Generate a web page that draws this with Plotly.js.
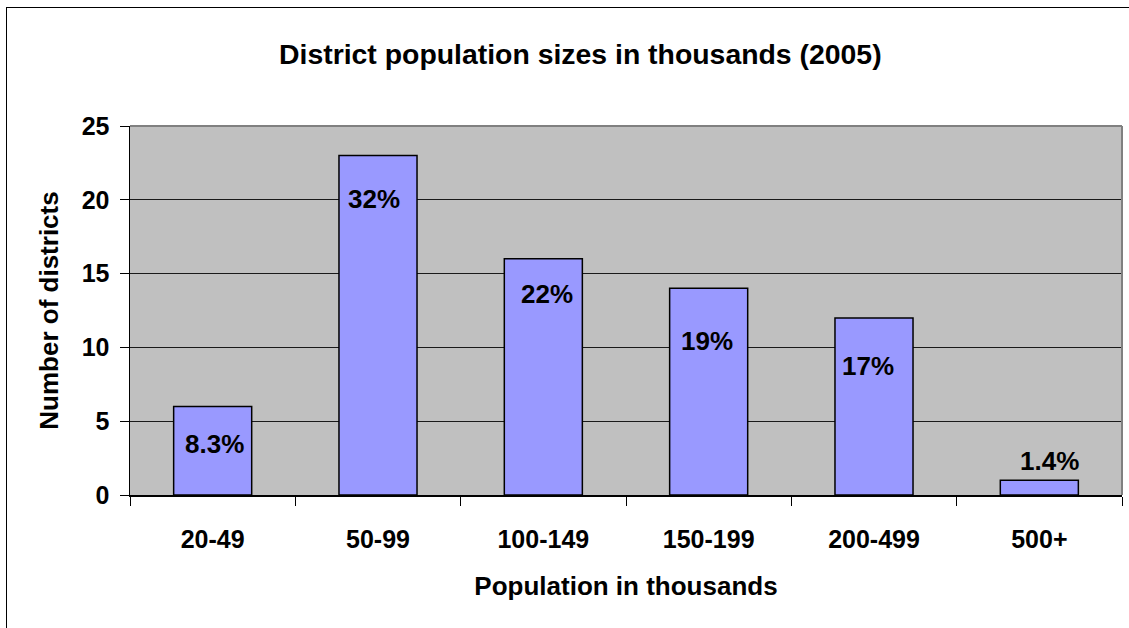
<!DOCTYPE html>
<html>
<head>
<meta charset="utf-8">
<script src="https://cdn.plot.ly/plotly-3.0.1.min.js"></script>
<style>
  html, body { margin: 0; padding: 0; background: #ffffff; overflow: hidden; }
  #frame { position: absolute; left: 6px; top: 7px; width: 1300px; height: 800px; border: 1.5px solid #000; box-sizing: border-box; }
  #chart { position: absolute; left: 0; top: 0; width: 1129px; height: 628px; }
</style>
</head>
<body>
<div id="frame"></div>
<div id="chart"></div>
<script>
// ---- data ----
const categories = ["20-49", "50-99", "100-149", "150-199", "200-499", "500+"];
const districts = [6, 23, 16, 14, 12, 1];
const shareLabels = ["8.3%", "32%", "22%", "19%", "17%", "1.4%"];
const yTickValues = [0, 5, 10, 15, 20, 25];

// ---- label placement (style, pixels relative to bar top) ----
const labelYShift = [-38, -43, -35, -53, -48, 19];
const labelXShift = [2, -4, 4, -2, -6, 10];

const FONT = "Liberation Sans, Arial, Helvetica, sans-serif";

const trace = {
  type: "bar",
  x: categories,
  y: districts,
  marker: { color: "#9999FF", line: { color: "#000000", width: 1.5 } },
  hoverinfo: "x+y"
};

const annotations = categories.map((c, i) => ({
  x: c,
  y: districts[i],
  xref: "x",
  yref: "y",
  text: shareLabels[i],
  showarrow: false,
  xanchor: "center",
  yanchor: "middle",
  yshift: labelYShift[i],
  xshift: labelXShift[i],
  font: { family: FONT, size: 26, color: "#000", weight: "bold" }
}));

const layout = {
  width: 1129,
  height: 628,
  paper_bgcolor: "rgba(0,0,0,0)",
  plot_bgcolor: "#C0C0C0",
  margin: { l: 130, r: 7, t: 126, b: 133, pad: 0 },
  showlegend: false,
  bargap: 0.528,
  title: {
    text: "District population sizes in thousands (2005)",
    font: { family: FONT, size: 28.4, color: "#000", weight: "bold" },
    xref: "container", yref: "container",
    x: 0.514, xanchor: "center",
    y: 1 - 54 / 628, yanchor: "middle"
  },
  xaxis: {
    type: "category",
    showgrid: false,
    showline: true, linecolor: "#000", linewidth: 1.5,
    ticks: "outside", ticklen: 9, tickcolor: "#000", tickwidth: 1,
    tickson: "boundaries",
    tickfont: { family: FONT, size: 25, color: "#000", weight: "bold" },
    ticklabelstandoff: 21,
    title: {
      text: "Population in thousands",
      font: { family: FONT, size: 26, color: "#000", weight: "bold" },
      standoff: 25
    },
    automargin: false,
    fixedrange: true
  },
  yaxis: {
    range: [0, 25],
    tickvals: yTickValues,
    ticktext: yTickValues.map(String),
    showgrid: true, gridcolor: "#1a1a1a", gridwidth: 1,
    zeroline: false,
    showline: true, linecolor: "#000", linewidth: 1.5,
    ticks: "outside", ticklen: 9, tickcolor: "#000", tickwidth: 1,
    tickfont: { family: FONT, size: 25, color: "#000", weight: "bold" },
    ticklabelstandoff: 5,
    title: {
      text: "Number of districts",
      font: { family: FONT, size: 26, color: "#000", weight: "bold" },
      standoff: 15
    },
    automargin: false,
    fixedrange: true
  },
  shapes: [
    { type: "line", xref: "paper", yref: "paper", x0: 0, x1: 1, y0: 1, y1: 1,
      line: { color: "#808080", width: 2 }, layer: "above" },
    { type: "line", xref: "paper", yref: "paper", x0: 1, x1: 1, y0: 0, y1: 1,
      line: { color: "#808080", width: 2 }, layer: "above" }
  ],
  annotations: annotations
};

Plotly.newPlot("chart", [trace], layout, { displayModeBar: false, staticPlot: true });
</script>
</body>
</html>
